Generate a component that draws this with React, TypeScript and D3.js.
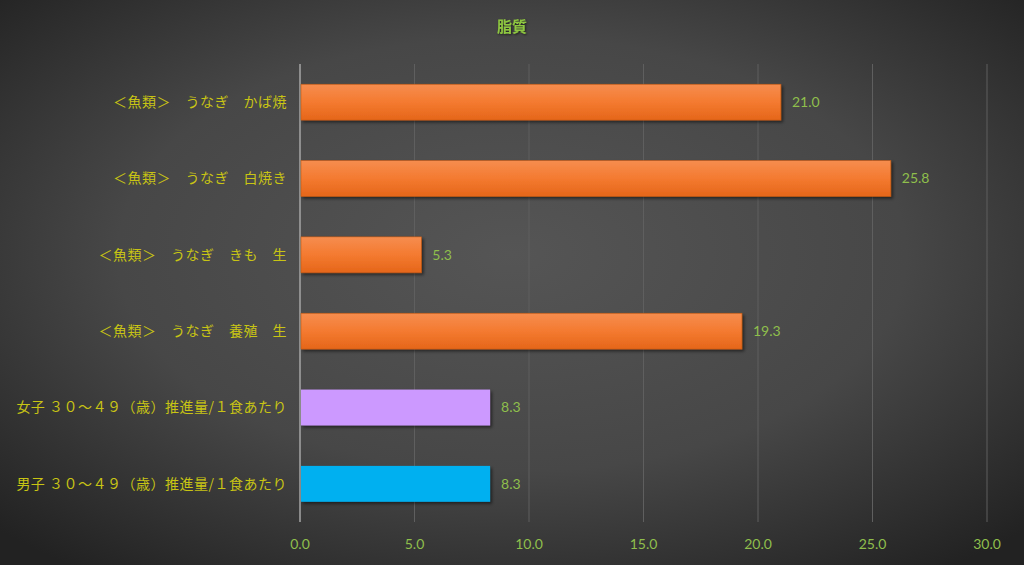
import React from "react";
import * as d3 from "d3";

const categories = [
  "＜魚類＞　うなぎ　かば焼",
  "＜魚類＞　うなぎ　白焼き",
  "＜魚類＞　うなぎ　きも　生",
  "＜魚類＞　うなぎ　養殖　生",
  "女子 ３０～４９（歳）推進量/１食あたり",
  "男子 ３０～４９（歳）推進量/１食あたり",
];
const values = [21.0, 25.8, 5.3, 19.3, 8.3, 8.3];
const barKinds = ["orange", "orange", "orange", "orange", "lavender", "cyan"];
const xTicks = [0, 5, 10, 15, 20, 25, 30];
const title = "脂質";

const W = 1024;
const H = 565;
const M = { left: 300, right: 37, top: 64, bottom: 43 };

export default function App() {
  const x = d3.scaleLinear().domain([0, 30]).range([M.left, W - M.right]);
  const y = d3
    .scaleBand<string>()
    .domain(categories)
    .range([M.top, H - M.bottom])
    .paddingInner(0.53)
    .paddingOuter(0.265);
  const fillFor = (k: string) =>
    k === "orange" ? "url(#orangeGrad)" : k === "lavender" ? "#cc99ff" : "#00b0f0";
  const jp = "'Noto Sans CJK JP', 'Noto Sans', sans-serif";
  const num = "Lato, 'Open Sans', sans-serif";
  return (
    <svg width={W} height={H} style={{ display: "block", position: "absolute", left: 0, top: 0 }}>
      <defs>
        <radialGradient id="bg" cx="50%" cy="45%" r="70%">
          <stop offset="0%" stopColor="#555555" />
          <stop offset="55%" stopColor="#474747" />
          <stop offset="100%" stopColor="#222222" />
        </radialGradient>
        <linearGradient id="orangeGrad" x1="0" y1="0" x2="0" y2="1">
          <stop offset="0%" stopColor="#f68d4f" />
          <stop offset="50%" stopColor="#f47a30" />
          <stop offset="100%" stopColor="#e5661a" />
        </linearGradient>
        <filter id="shadow" x="-5%" y="-20%" width="110%" height="150%">
          <feDropShadow dx="2" dy="2" stdDeviation="1.5" floodColor="#000" floodOpacity="0.5" />
        </filter>
        <filter id="tshadow">
          <feDropShadow dx="1" dy="1" stdDeviation="1" floodColor="#000" floodOpacity="0.6" />
        </filter>
      </defs>
      <rect x={0} y={0} width={W} height={H} fill="url(#bg)" />
      {xTicks.map((t) => (
        <g key={t}>
          {t > 0 && (
            <line x1={x(t)} x2={x(t)} y1={M.top} y2={H - M.bottom} stroke="#5f5f5f" strokeWidth={1} />
          )}
          <text
            x={x(t)}
            y={549}
            textAnchor="middle"
            fill="#8fbf4c"
            fontSize={14}
            fontFamily={num}
          >
            {t.toFixed(1)}
          </text>
        </g>
      ))}
      <line x1={x(0)} x2={x(0)} y1={M.top} y2={H - M.bottom} stroke="#a6a6a6" strokeWidth={1.5} />
      {categories.map((c, i) => {
        const yy = y(c)!;
        const bw = y.bandwidth();
        return (
          <g key={c}>
            <rect
              x={x(0) + 1}
              y={yy}
              width={x(values[i]) - x(0) - 1}
              height={bw}
              fill={fillFor(barKinds[i])}
              stroke="#c55a11"
              strokeWidth={barKinds[i] === "orange" ? 0.6 : 0}
              filter="url(#shadow)"
            />
            <text
              x={x(values[i]) + 11}
              y={yy + bw / 2}
              dy="0.35em"
              fill="#8fbf4c"
              fontSize={14}
              fontFamily={num}
            >
              {values[i].toFixed(1)}
            </text>
            <text
              x={287}
              y={yy + bw / 2}
              dy="0.35em"
              textAnchor="end"
              fill="#c8c414"
              fontSize={14}
              letterSpacing={0.5}
              fontFamily={jp}
            >
              {c}
            </text>
          </g>
        );
      })}
      <text
        x={512}
        y={27}
        dy="0.35em"
        textAnchor="middle"
        fill="#8dc63f"
        fontSize={15}
        fontWeight="bold"
        fontFamily={jp}
        filter="url(#tshadow)"
      >
        {title}
      </text>
    </svg>
  );
}
